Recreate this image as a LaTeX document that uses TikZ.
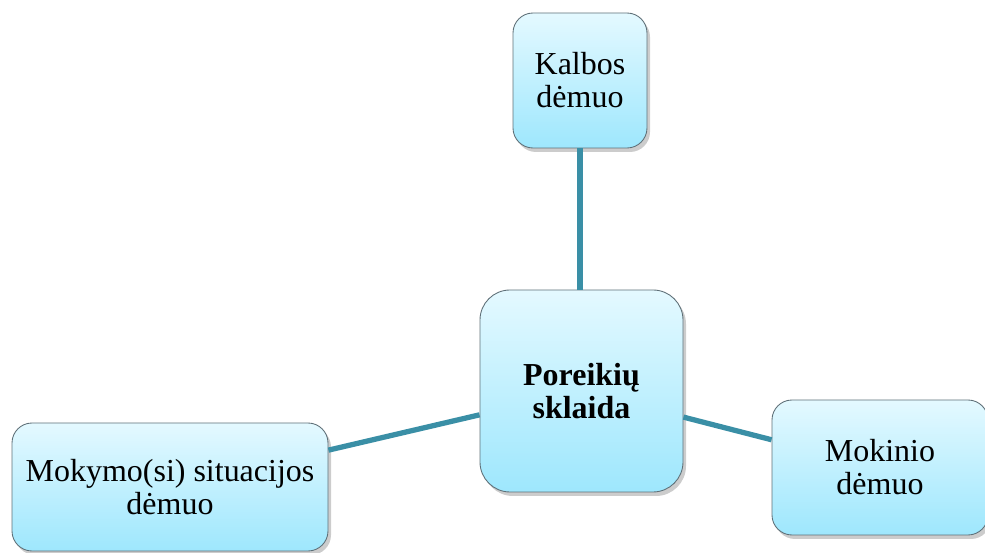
\documentclass[tikz,border=0pt]{standalone}
\usepackage{fontspec}
\setmainfont{Liberation Serif}
\usepackage{tikz}
\usetikzlibrary{positioning,shadows}
\definecolor{PkTeal}{HTML}{3A8FA6}
\definecolor{PkTop}{HTML}{E4F9FF}
\definecolor{PkBottom}{HTML}{9EE7FD}
\definecolor{PkEdge}{HTML}{5F7078}

\begin{document}
\begin{tikzpicture}[x=0.02cm,y=-0.02cm,
    dimbox/.style={draw=PkEdge,line width=0.5pt,rounded corners=0.4cm,
      top color=PkTop,bottom color=PkBottom,align=center,inner sep=0pt,
      drop shadow={shadow xshift=0.06cm,shadow yshift=-0.08cm,opacity=0.4},
      font=\fontsize{18.2}{18.8}\selectfont},
    link/.style={PkTeal,line width=3pt}]
  \useasboundingbox (0,0) rectangle (985,553);
  \node[dimbox,minimum width=134*0.02cm,minimum height=135*0.02cm] (kalba) at (580,80.5) {Kalbos\\dėmuo};
  \node[dimbox,rounded corners=0.6cm,minimum width=203*0.02cm,minimum height=202*0.02cm,
        font=\fontsize{18.2}{19.2}\selectfont\bfseries] (sklaida) at (581.5,391) {Poreikių\\sklaida};
  \node[dimbox,minimum width=316*0.02cm,minimum height=128*0.02cm] (situacija) at (170,487) {Mokymo(si) situacijos\\dėmuo};
  \node[dimbox,minimum width=216*0.02cm,minimum height=135*0.02cm] (mokinys) at (880,467.5) {Mokinio\\dėmuo};
  \draw[link] (kalba.south) -- (kalba.south |- sklaida.north);
  \draw[link] (sklaida) -- (situacija);
  \draw[link] (sklaida) -- (mokinys);
\end{tikzpicture}
\end{document}
